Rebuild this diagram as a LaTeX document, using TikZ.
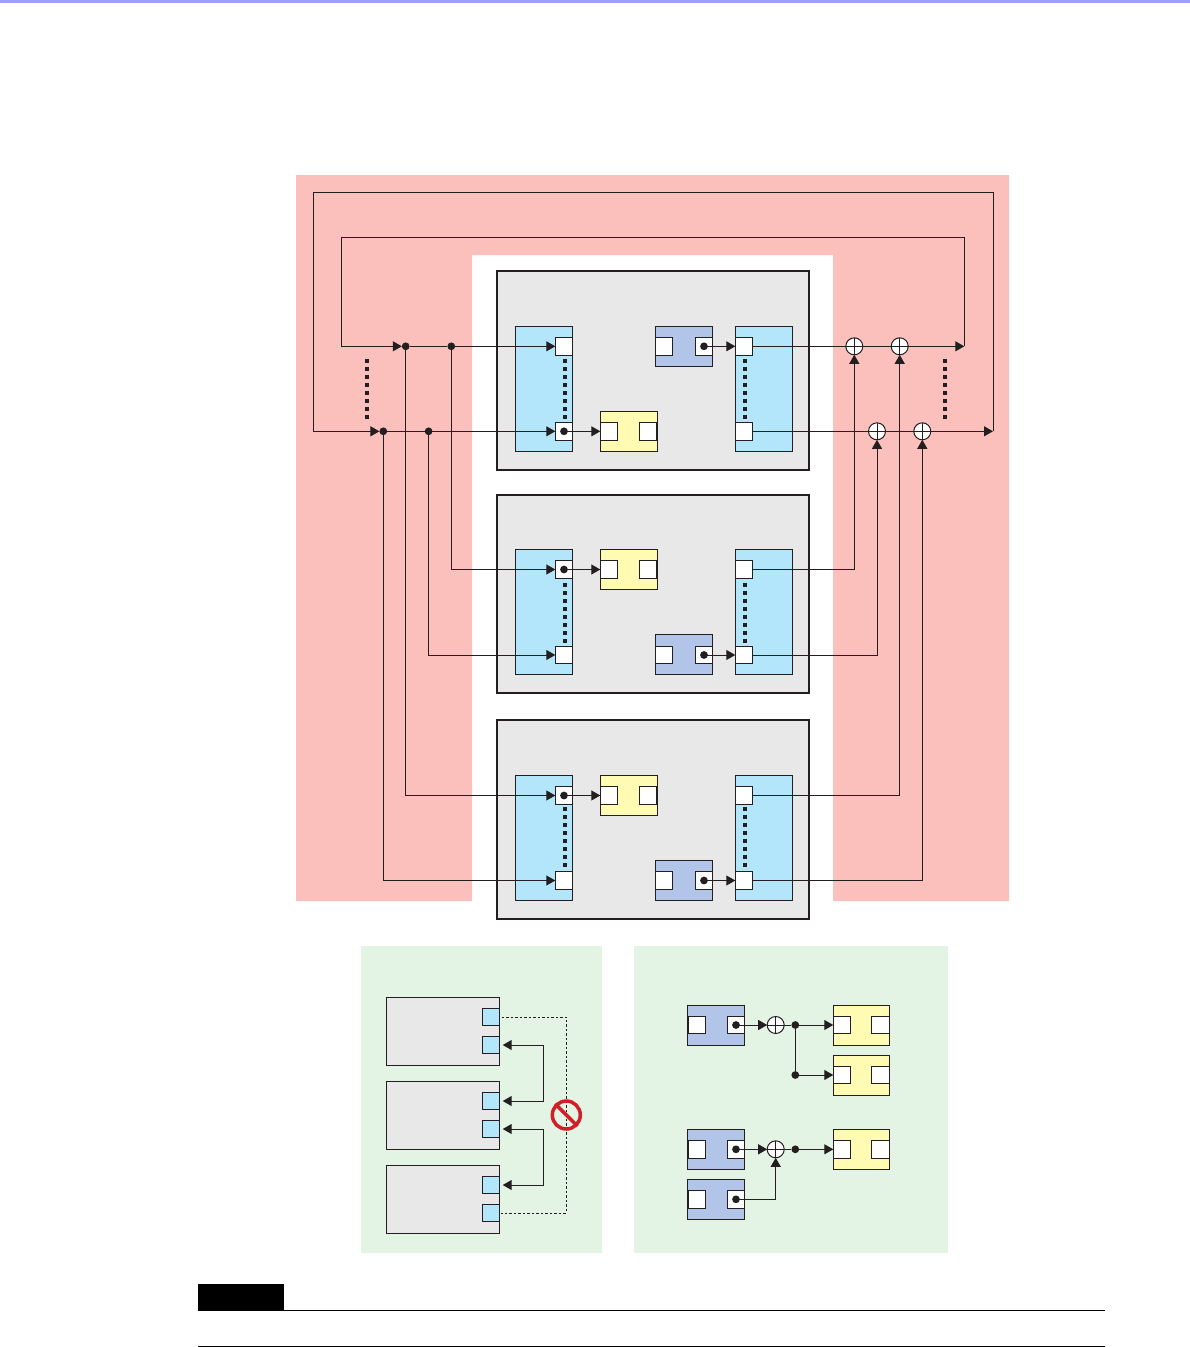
\documentclass[tikz,border=0pt]{standalone}
\usepackage{xcolor}
\usetikzlibrary{arrows.meta}
\definecolor{cBar}{RGB}{159,159,255}
\definecolor{cPink}{RGB}{251,191,188}
\definecolor{cChip}{RGB}{232,232,232}
\definecolor{cBuf}{RGB}{179,229,251}
\definecolor{cSnk}{RGB}{255,251,179}
\definecolor{cSrc}{RGB}{178,197,232}
\definecolor{cGreen}{RGB}{228,244,228}
\definecolor{cInk}{RGB}{35,31,32}
\definecolor{cStop}{RGB}{208,31,38}
\tikzset{
  boxbase/.style={draw=cInk,line width=0.02cm,inner sep=0pt,outer sep=0pt},
  chipbox/.style={boxbase,fill=cChip,line width=0.04cm,minimum width=6.25cm,minimum height=3.97cm},
  bufbox/.style={boxbase,fill=cBuf,minimum width=1.148cm,minimum height=2.5cm},
  snkbox/.style={boxbase,fill=cSnk,minimum width=1.13cm,minimum height=0.8cm},
  srcbox/.style={boxbase,fill=cSrc,minimum width=1.148cm,minimum height=0.8cm},
  portbox/.style={boxbase,fill=white,minimum width=0.348cm,minimum height=0.348cm},
  tinybox/.style={boxbase,fill=cBuf,minimum width=0.348cm,minimum height=0.348cm},
  unitbox/.style={boxbase,fill=cChip,minimum width=2.268cm,minimum height=1.36cm},
  jn/.style={circle,fill=cInk,inner sep=0pt,outer sep=0pt,minimum size=0.155cm},
  xormark/.style={circle,draw=cInk,fill=white,line width=0.02cm,inner sep=0pt,outer sep=0pt,minimum size=0.34cm,
    path picture={\draw[cInk,line width=0.02cm] (path picture bounding box.north)--(path picture bounding box.south)
      (path picture bounding box.west)--(path picture bounding box.east);}},
  wire/.style={draw=cInk,line width=0.02cm},
  arr/.style={wire,-{Triangle[length=0.18cm,width=0.2cm]}},
  dotrow/.style={draw=cInk,line width=0.08cm,dash pattern=on 0.08cm off 0.08cm},
  nosign/.style={circle,draw=cStop,line width=0.07cm,inner sep=0pt,minimum size=0.56cm},
}
\begin{document}
\begin{tikzpicture}[x=0.02cm,y=-0.02cm]
\useasboundingbox (0,0) rectangle (1190,1347);
\fill[cBar] (0,0) rectangle (1190,3);
\fill[cPink] (296,175) -- (1009,175) -- (1009,901) -- (833,901) -- (833,255) -- (472,255) -- (472,901) -- (296,901) -- cycle;
\fill[cGreen] (361,946) rectangle (602,1252.7);
\fill[cGreen] (634,946) rectangle (948,1252.7);
\fill[black] (198,1284) rectangle (284,1310);
\draw[black,line width=0.02cm] (198,1310.5) -- (1105,1310.5);
\draw[black,line width=0.02cm] (198,1346) -- (1105,1346);
\node[chipbox] (chipA) at (653,370.5) {};
\node[chipbox] (chipB) at (653,593.8) {};
\node[chipbox] (chipC) at (653,819.3) {};
\node[bufbox] (bufAl) at (544,388.8) {};
\node[bufbox] (bufAr) at (764,388.8) {};
\node[bufbox] (bufBl) at (544,612.3) {};
\node[bufbox] (bufBr) at (764,612.3) {};
\node[bufbox] (bufCl) at (544,837.8) {};
\node[bufbox] (bufCr) at (764,837.8) {};
\node[snkbox] (snkA) at (629,431.3) {};
\node[snkbox] (snkB) at (629,569.5) {};
\node[snkbox] (snkC) at (629,795.5) {};
\node[srcbox] (srcA) at (684,346.3) {};
\node[srcbox] (srcB) at (684,654.5) {};
\node[srcbox] (srcC) at (684,880.5) {};
\node[portbox] (inAa) at (564,346.3) {};
\node[portbox] (inAb) at (564,431.3) {};
\node[portbox] (inBa) at (564,569.5) {};
\node[portbox] (inBb) at (564,655) {};
\node[portbox] (inCa) at (564,795.5) {};
\node[portbox] (inCb) at (564,880.5) {};
\node[portbox] (outAa) at (744,346.3) {};
\node[portbox] (outAb) at (744,431.3) {};
\node[portbox] (outBa) at (744,569.5) {};
\node[portbox] (outBb) at (744,655) {};
\node[portbox] (outCa) at (744,795.5) {};
\node[portbox] (outCb) at (744,880.5) {};
\node[portbox] (snkAi) at (609,431.3) {};
\node[portbox] (snkAo) at (648,431.3) {};
\node[portbox] (snkBi) at (609,569.5) {};
\node[portbox] (snkBo) at (648,569.5) {};
\node[portbox] (snkCi) at (609,795.5) {};
\node[portbox] (snkCo) at (648,795.5) {};
\node[portbox] (srcAi) at (664,346.3) {};
\node[portbox] (srcAo) at (704,346.3) {};
\node[portbox] (srcBi) at (664,655) {};
\node[portbox] (srcBo) at (704,655) {};
\node[portbox] (srcCi) at (664,880.5) {};
\node[portbox] (srcCo) at (704,880.5) {};
\node[jn] (jnInA) at (inAb) {};
\node[jn] (jnInB) at (inBa) {};
\node[jn] (jnInC) at (inCa) {};
\node[jn] (jnSrcA) at (srcAo) {};
\node[jn] (jnSrcB) at (srcBo) {};
\node[jn] (jnSrcC) at (srcCo) {};
\node[jn] (jnTa) at (405.7,346.3) {};
\node[jn] (jnTb) at (451.3,346.3) {};
\node[jn] (jnLa) at (383.3,431.3) {};
\node[jn] (jnLb) at (428.6,431.3) {};
\node[xormark] (xorTa) at (854.3,346.3) {};
\node[xormark] (xorTb) at (899.7,346.3) {};
\node[xormark] (xorLa) at (877,431.3) {};
\node[xormark] (xorLb) at (922.3,431.3) {};
\coordinate (fbT) at (964.3,346.3);
\coordinate (fbL) at (993,431.3);
\coordinate (turnT) at (341.3,237.3);
\coordinate (turnL) at (313.3,192.3);
\draw[dotrow] (565,359) -- (565,419);
\draw[dotrow] (745,359) -- (745,419);
\draw[dotrow] (367,359) -- (367,419);
\draw[dotrow] (945,359) -- (945,419);
\draw[dotrow] (565,583) -- (565,643);
\draw[dotrow] (745,583) -- (745,643);
\draw[dotrow] (565,807) -- (565,867);
\draw[dotrow] (745,807) -- (745,867);
\draw[wire] (jnTa.east) -- (jnTb.west);
\draw[arr] (jnTb.east) -- (inAa.west);
\draw[wire] (jnLa.east) -- (jnLb.west);
\draw[arr] (jnLb.east) -- (inAb.west);
\draw[arr] (jnInA.center) -- (snkAi.west);
\draw[arr] (jnInB.center) -- (snkBi.west);
\draw[arr] (jnInC.center) -- (snkCi.west);
\draw[arr] (jnSrcA.center) -- (outAa.west);
\draw[arr] (jnSrcB.center) -- (outBb.west);
\draw[arr] (jnSrcC.center) -- (outCb.west);
\draw[arr] (jnTb.south) |- (inBa.west);
\draw[arr] (jnLb.south) |- (inBb.west);
\draw[arr] (jnTa.south) |- (inCa.west);
\draw[arr] (jnLa.south) |- (inCb.west);
\draw[wire] (outAa.east) -- (xorTa.west);
\draw[wire] (xorTa.east) -- (xorTb.west);
\draw[arr] (xorTb.east) -- (fbT);
\draw[wire] (outAb.east) -- (xorLa.west);
\draw[wire] (xorLa.east) -- (xorLb.west);
\draw[arr] (xorLb.east) -- (fbL);
\draw[arr] (fbT) |- (turnT) |- (jnTa.west);
\draw[arr] (fbL) |- (turnL) |- (jnLa.west);
\draw[arr] (outBa.east) -| (xorTa.south);
\draw[arr] (outBb.east) -| (xorLa.south);
\draw[arr] (outCa.east) -| (xorTb.south);
\draw[arr] (outCb.east) -| (xorLb.south);
\node[unitbox] (unitA) at (443,1031.3) {};
\node[unitbox] (unitB) at (443,1115.3) {};
\node[unitbox] (unitC) at (443,1199.3) {};
\node[tinybox] (tinyAa) at (491,1017) {};
\node[tinybox] (tinyAb) at (491,1045) {};
\node[tinybox] (tinyBa) at (491,1101) {};
\node[tinybox] (tinyBb) at (491,1129) {};
\node[tinybox] (tinyCa) at (491,1185) {};
\node[tinybox] (tinyCb) at (491,1213) {};
\coordinate (turnAB) at (543.7,1073);
\coordinate (turnBC) at (543.7,1157);
\coordinate (turnAC) at (566.3,1115);
\draw[wire,{Triangle[length=0.18cm,width=0.2cm]}-{Triangle[length=0.18cm,width=0.2cm]},shorten <=0.06cm,shorten >=0.06cm] (tinyAb.east) -| (turnAB) |- (tinyBa.east);
\draw[wire,{Triangle[length=0.18cm,width=0.2cm]}-{Triangle[length=0.18cm,width=0.2cm]},shorten <=0.06cm,shorten >=0.06cm] (tinyBb.east) -| (turnBC) |- (tinyCa.east);
\draw[wire,dash pattern=on 0.05cm off 0.04cm,shorten <=0.04cm,shorten >=0.02cm] (tinyAa.east) -| (turnAC) |- (tinyCb.east);
\node[nosign] (stopA) at (turnAC) {};
\draw[cStop,line width=0.07cm] (stopA.north west) -- (stopA.south east);
\node[srcbox] (srcD) at (716,1025) {};
\node[srcbox] (srcE) at (716,1149.3) {};
\node[srcbox] (srcF) at (716,1199.3) {};
\node[snkbox] (snkD) at (861.3,1025) {};
\node[snkbox] (snkE) at (861.3,1075) {};
\node[snkbox] (snkF) at (861.3,1149.3) {};
\node[portbox] (srcDi) at (697,1025) {};
\node[portbox] (srcDo) at (736,1025) {};
\node[portbox] (srcEi) at (697,1149.3) {};
\node[portbox] (srcEo) at (736,1149.3) {};
\node[portbox] (srcFi) at (697,1199.3) {};
\node[portbox] (srcFo) at (736,1199.3) {};
\node[portbox] (snkDi) at (842,1025) {};
\node[portbox] (snkDo) at (880.5,1025) {};
\node[portbox] (snkEi) at (842,1075) {};
\node[portbox] (snkEo) at (880.5,1075) {};
\node[portbox] (snkFi) at (842,1149.3) {};
\node[portbox] (snkFo) at (880.5,1149.3) {};
\node[jn] (jnSrcD) at (srcDo) {};
\node[jn] (jnSrcE) at (srcEo) {};
\node[jn] (jnSrcF) at (srcFo) {};
\node[xormark] (xorD) at (775.7,1025) {};
\node[xormark] (xorE) at (775.7,1149.3) {};
\node[jn] (jnD) at (795.3,1025) {};
\node[jn] (jnG) at (795.3,1075) {};
\node[jn] (jnE) at (795.3,1149.3) {};
\draw[arr] (jnSrcD.center) -- (xorD.west);
\draw[wire] (xorD.east) -- (jnD.west);
\draw[arr] (jnD.east) -- (snkDi.west);
\draw[wire] (jnD.south) -- (jnG.north);
\draw[arr] (jnG.east) -- (snkEi.west);
\draw[arr] (jnSrcE.center) -- (xorE.west);
\draw[wire] (xorE.east) -- (jnE.west);
\draw[arr] (jnE.east) -- (snkFi.west);
\draw[arr] (jnSrcF.center) -| (xorE.south);
\end{tikzpicture}
\end{document}
